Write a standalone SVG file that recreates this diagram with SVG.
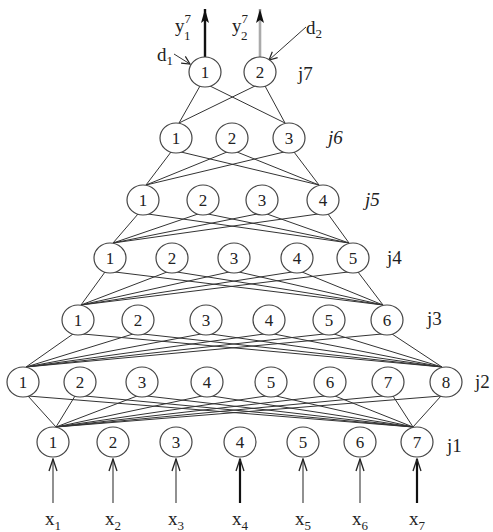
<svg xmlns="http://www.w3.org/2000/svg" width="493" height="532" viewBox="0 0 493 532">
<defs>
<marker id="ah" viewBox="0 0 14 10" refX="13" refY="5" markerWidth="14" markerHeight="10" orient="auto" markerUnits="userSpaceOnUse">
<path d="M1,1 L13,5 L1,9" fill="none" stroke="#222" stroke-width="1.3"/>
</marker>
<marker id="ahf" viewBox="0 0 14 8" refX="14" refY="4" markerWidth="14" markerHeight="8" orient="auto" markerUnits="userSpaceOnUse">
<path d="M0,0 L14,4 L0,8 L3,4 Z" fill="#111" stroke="none"/>
</marker>
<marker id="ah2" viewBox="0 0 10 10" refX="9" refY="5" markerWidth="10" markerHeight="10" orient="auto" markerUnits="userSpaceOnUse">
<path d="M1,1 L9,5 L1,9" fill="none" stroke="#222" stroke-width="1.2"/>
</marker>
</defs>
<style>
.n ellipse{fill:#fff;stroke:#444;stroke-width:1.2}
.n text{font-family:"Liberation Serif",serif;font-size:17px;text-anchor:middle;fill:#222}
.lbl{font-family:"Liberation Serif",serif;font-size:19px;fill:#222}
.sub{font-size:13px}
#edges line{stroke:#333;stroke-width:1}
.in{stroke:#555;stroke-width:1.3}
.inb{stroke:#111;stroke-width:2.2}
</style>
<rect width="493" height="532" fill="#fff"/>
<g id="edges">
<line x1="200" y1="86" x2="179" y2="123"/><line x1="210" y1="86" x2="285" y2="123"/>
<line x1="255" y1="86" x2="179" y2="123"/><line x1="265" y1="86" x2="285" y2="123"/>
<line x1="171" y1="152" x2="146" y2="185"/><line x1="181" y1="152" x2="319" y2="185"/>
<line x1="227" y1="152" x2="146" y2="185"/><line x1="237" y1="152" x2="319" y2="185"/>
<line x1="284" y1="152" x2="146" y2="185"/><line x1="294" y1="152" x2="319" y2="185"/>
<line x1="138" y1="214" x2="113" y2="243"/><line x1="148" y1="214" x2="349" y2="243"/>
<line x1="198" y1="214" x2="113" y2="243"/><line x1="208" y1="214" x2="349" y2="243"/>
<line x1="257" y1="214" x2="113" y2="243"/><line x1="267" y1="214" x2="349" y2="243"/>
<line x1="318" y1="214" x2="113" y2="243"/><line x1="328" y1="214" x2="349" y2="243"/>
<line x1="105" y1="272" x2="81" y2="305"/><line x1="115" y1="272" x2="383" y2="305"/>
<line x1="167" y1="272" x2="81" y2="305"/><line x1="177" y1="272" x2="383" y2="305"/>
<line x1="229" y1="272" x2="81" y2="305"/><line x1="239" y1="272" x2="383" y2="305"/>
<line x1="292" y1="272" x2="81" y2="305"/><line x1="302" y1="272" x2="383" y2="305"/>
<line x1="348" y1="272" x2="81" y2="305"/><line x1="358" y1="272" x2="383" y2="305"/>
<line x1="73" y1="334" x2="26" y2="367"/><line x1="83" y1="334" x2="442" y2="367"/>
<line x1="133" y1="334" x2="26" y2="367"/><line x1="143" y1="334" x2="442" y2="367"/>
<line x1="201" y1="334" x2="26" y2="367"/><line x1="211" y1="334" x2="442" y2="367"/>
<line x1="264" y1="334" x2="26" y2="367"/><line x1="274" y1="334" x2="442" y2="367"/>
<line x1="324" y1="334" x2="26" y2="367"/><line x1="334" y1="334" x2="442" y2="367"/>
<line x1="382" y1="334" x2="26" y2="367"/><line x1="392" y1="334" x2="442" y2="367"/>
<line x1="28" y1="396" x2="56" y2="427"/><line x1="28" y1="396" x2="413" y2="427"/>
<line x1="75" y1="396" x2="56" y2="427"/><line x1="85" y1="396" x2="413" y2="427"/>
<line x1="137" y1="396" x2="56" y2="427"/><line x1="147" y1="396" x2="413" y2="427"/>
<line x1="202" y1="396" x2="56" y2="427"/><line x1="212" y1="396" x2="413" y2="427"/>
<line x1="266" y1="396" x2="56" y2="427"/><line x1="276" y1="396" x2="413" y2="427"/>
<line x1="325" y1="396" x2="56" y2="427"/><line x1="335" y1="396" x2="413" y2="427"/>
<line x1="383" y1="396" x2="56" y2="427"/><line x1="393" y1="396" x2="413" y2="427"/>
<line x1="441" y1="396" x2="56" y2="427"/><line x1="441" y1="396" x2="413" y2="427"/>
</g>
<g id="io">
<line x1="205" y1="57" x2="205" y2="9" stroke="#111" stroke-width="2.4" marker-end="url(#ahf)"/>
<line x1="260" y1="57" x2="260" y2="9" stroke="#aaa" stroke-width="2.6" marker-end="url(#ahf)"/>
<line x1="174" y1="54" x2="190" y2="64" stroke="#333" stroke-width="1" marker-end="url(#ah2)"/>
<line x1="306" y1="27" x2="269" y2="60" stroke="#333" stroke-width="1" marker-end="url(#ah2)"/>
<line class="in" x1="53" y1="503" x2="53" y2="459" marker-end="url(#ah)"/>
<line class="in" x1="113" y1="503" x2="113" y2="459" marker-end="url(#ah)"/>
<line class="in" x1="176" y1="503" x2="176" y2="459" marker-end="url(#ah)"/>
<line class="inb" x1="240" y1="503" x2="240" y2="459" marker-end="url(#ah)"/>
<line class="in" x1="303" y1="503" x2="303" y2="459" marker-end="url(#ah)"/>
<line class="in" x1="360" y1="503" x2="360" y2="459" marker-end="url(#ah)"/>
<line class="inb" x1="417" y1="503" x2="417" y2="459" marker-end="url(#ah)"/>
</g>
<g id="labels">
<text class="lbl" x="175" y="32">y<tspan class="sub" dx="0" dy="-9">7</tspan><tspan class="sub" dx="-7" dy="17">1</tspan></text>
<text class="lbl" x="232" y="32">y<tspan class="sub" dx="0" dy="-9">7</tspan><tspan class="sub" dx="-7" dy="17">2</tspan></text>
<text class="lbl" x="157" y="61">d<tspan class="sub" dy="4">1</tspan></text>
<text class="lbl" x="306" y="34">d<tspan class="sub" dy="4">2</tspan></text>
<text class="lbl" x="298" y="80">j7</text>
<text class="lbl" x="328" y="144" font-style="italic">j6</text>
<text class="lbl" x="365" y="206" font-style="italic">j5</text>
<text class="lbl" x="387" y="264">j4</text>
<text class="lbl" x="427" y="325">j3</text>
<text class="lbl" x="475" y="388">j2</text>
<text class="lbl" x="447" y="452">j1</text>
<text class="lbl" x="45" y="525">x<tspan class="sub" dy="5">1</tspan></text>
<text class="lbl" x="105" y="525">x<tspan class="sub" dy="5">2</tspan></text>
<text class="lbl" x="168" y="525">x<tspan class="sub" dy="5">3</tspan></text>
<text class="lbl" x="232" y="525">x<tspan class="sub" dy="5">4</tspan></text>
<text class="lbl" x="295" y="525">x<tspan class="sub" dy="5">5</tspan></text>
<text class="lbl" x="352" y="525">x<tspan class="sub" dy="5">6</tspan></text>
<text class="lbl" x="409" y="525">x<tspan class="sub" dy="5">7</tspan></text>
</g>
<g id="j7n1" class="n"><ellipse cx="205" cy="72" rx="16" ry="15"/><text x="205" y="78">1</text></g>
<g id="j7n2" class="n"><ellipse cx="260" cy="72" rx="16" ry="15"/><text x="260" y="78">2</text></g>
<g id="j6n1" class="n"><ellipse cx="176" cy="138" rx="16" ry="15"/><text x="176" y="144">1</text></g>
<g id="j6n2" class="n"><ellipse cx="232" cy="138" rx="16" ry="15"/><text x="232" y="144">2</text></g>
<g id="j6n3" class="n"><ellipse cx="289" cy="138" rx="16" ry="15"/><text x="289" y="144">3</text></g>
<g id="j5n1" class="n"><ellipse cx="143" cy="200" rx="16" ry="15"/><text x="143" y="206">1</text></g>
<g id="j5n2" class="n"><ellipse cx="203" cy="200" rx="16" ry="15"/><text x="203" y="206">2</text></g>
<g id="j5n3" class="n"><ellipse cx="262" cy="200" rx="16" ry="15"/><text x="262" y="206">3</text></g>
<g id="j5n4" class="n"><ellipse cx="323" cy="200" rx="16" ry="15"/><text x="323" y="206">4</text></g>
<g id="j4n1" class="n"><ellipse cx="110" cy="258" rx="16" ry="15"/><text x="110" y="264">1</text></g>
<g id="j4n2" class="n"><ellipse cx="172" cy="258" rx="16" ry="15"/><text x="172" y="264">2</text></g>
<g id="j4n3" class="n"><ellipse cx="234" cy="258" rx="16" ry="15"/><text x="234" y="264">3</text></g>
<g id="j4n4" class="n"><ellipse cx="297" cy="258" rx="16" ry="15"/><text x="297" y="264">4</text></g>
<g id="j4n5" class="n"><ellipse cx="353" cy="258" rx="16" ry="15"/><text x="353" y="264">5</text></g>
<g id="j3n1" class="n"><ellipse cx="78" cy="320" rx="16" ry="15"/><text x="78" y="326">1</text></g>
<g id="j3n2" class="n"><ellipse cx="138" cy="320" rx="16" ry="15"/><text x="138" y="326">2</text></g>
<g id="j3n3" class="n"><ellipse cx="206" cy="320" rx="16" ry="15"/><text x="206" y="326">3</text></g>
<g id="j3n4" class="n"><ellipse cx="269" cy="320" rx="16" ry="15"/><text x="269" y="326">4</text></g>
<g id="j3n5" class="n"><ellipse cx="329" cy="320" rx="16" ry="15"/><text x="329" y="326">5</text></g>
<g id="j3n6" class="n"><ellipse cx="387" cy="320" rx="16" ry="15"/><text x="387" y="326">6</text></g>
<g id="j2n1" class="n"><ellipse cx="23" cy="382" rx="16" ry="15"/><text x="23" y="388">1</text></g>
<g id="j2n2" class="n"><ellipse cx="80" cy="382" rx="16" ry="15"/><text x="80" y="388">2</text></g>
<g id="j2n3" class="n"><ellipse cx="142" cy="382" rx="16" ry="15"/><text x="142" y="388">3</text></g>
<g id="j2n4" class="n"><ellipse cx="207" cy="382" rx="16" ry="15"/><text x="207" y="388">4</text></g>
<g id="j2n5" class="n"><ellipse cx="271" cy="382" rx="16" ry="15"/><text x="271" y="388">5</text></g>
<g id="j2n6" class="n"><ellipse cx="330" cy="382" rx="16" ry="15"/><text x="330" y="388">6</text></g>
<g id="j2n7" class="n"><ellipse cx="388" cy="382" rx="16" ry="15"/><text x="388" y="388">7</text></g>
<g id="j2n8" class="n"><ellipse cx="446" cy="382" rx="16" ry="15"/><text x="446" y="388">8</text></g>
<g id="j1n1" class="n"><ellipse cx="53" cy="442" rx="16" ry="15"/><text x="53" y="448">1</text></g>
<g id="j1n2" class="n"><ellipse cx="113" cy="442" rx="16" ry="15"/><text x="113" y="448">2</text></g>
<g id="j1n3" class="n"><ellipse cx="176" cy="442" rx="16" ry="15"/><text x="176" y="448">3</text></g>
<g id="j1n4" class="n"><ellipse cx="240" cy="442" rx="16" ry="15"/><text x="240" y="448">4</text></g>
<g id="j1n5" class="n"><ellipse cx="303" cy="442" rx="16" ry="15"/><text x="303" y="448">5</text></g>
<g id="j1n6" class="n"><ellipse cx="360" cy="442" rx="16" ry="15"/><text x="360" y="448">6</text></g>
<g id="j1n7" class="n"><ellipse cx="417" cy="442" rx="16" ry="15"/><text x="417" y="448">7</text></g>
</svg>
